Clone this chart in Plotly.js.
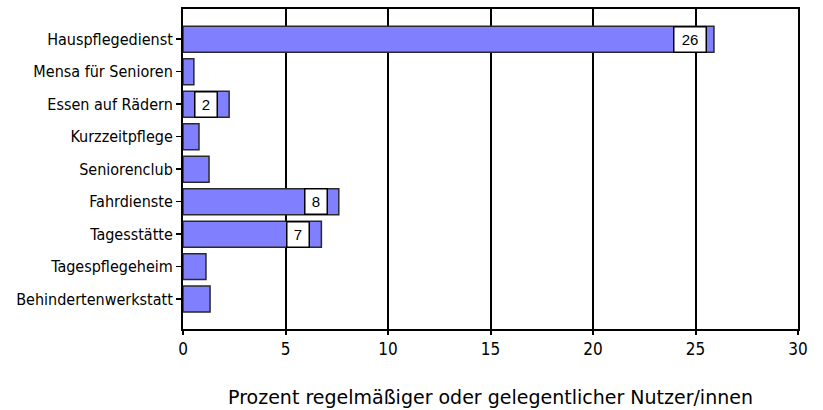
<!DOCTYPE html>
<html><head><meta charset="utf-8">
<script src="https://cdn.plot.ly/plotly-3.0.1.min.js"></script>
<style>body{margin:0;background:#fff}#c{width:823px;height:410px}</style>
</head><body><div id="c"></div>
<script>
const categories = ["Hauspflegedienst","Mensa für Senioren","Essen auf Rädern","Kurzzeitpflege","Seniorenclub","Fahrdienste","Tagesstätte","Tagespflegeheim","Behindertenwerkstatt"];
const values = [25.9, 0.53, 2.25, 0.78, 1.27, 7.6, 6.75, 1.12, 1.32];
const labels = ["26", null, "2", null, null, "8", "7", null, null];
const xTicks = [0,5,10,15,20,25,30];

const COND = 'DejaVu Sans Condensed, Liberation Sans Narrow, sans-serif';
const annotations = [];
categories.forEach((c,i)=>{
  if(labels[i]){
    const two = labels[i].length>1;
    annotations.push({x: values[i], y: c, xref:'x', yref:'y', text: labels[i], showarrow:false,
      xanchor:'right', yanchor:'middle', xshift: two ? -7 : -11,
      bgcolor:'#ffffff', bordercolor:'#000000', borderwidth:1.5, borderpad:0,
      width: two ? 31 : 21, height: 24,
      font:{family:'Liberation Sans, Arial, sans-serif', size:15, color:'#000'}});
  }
});

const trace = {type:'bar', orientation:'h', x: values, y: categories, width:0.8,
  marker:{color:'#8080ff', line:{color:'#2a2a2a', width:1.5}}, hoverinfo:'none'};

const layout = {
  width:823, height:410,
  margin:{l:183, r:25, t:9, b:81},
  paper_bgcolor:'#fff', plot_bgcolor:'#fff',
  showlegend:false,
  font:{family:COND, size:16, color:'#000'},
  xaxis:{range:[0,30], tickvals:xTicks, ticktext:xTicks.map(String), showgrid:true, gridcolor:'#000', gridwidth:2,
    zeroline:false, showline:true, linecolor:'#000', linewidth:2, mirror:true,
    ticks:'outside', ticklen:4, tickwidth:2, tickcolor:'#000',
    tickfont:{family:COND, size:17},
    title:{text:'Prozent regelmäßiger oder gelegentlicher Nutzer/innen', standoff:32,
      font:{family:'DejaVu Sans, sans-serif', size:19}}},
  yaxis:{type:'category', categoryorder:'array', categoryarray: categories.slice().reverse(),
    range:[-0.92, 8.93], showgrid:false, zeroline:false, showline:true, linecolor:'#000', linewidth:2, mirror:true,
    ticks:'outside', ticklen:5, tickwidth:1.5, tickcolor:'#000', ticklabelstandoff:0,
    tickfont:{family:COND, size:16}},
  annotations: annotations
};
Plotly.newPlot('c',[trace],layout,{staticPlot:true});
</script></body></html>
